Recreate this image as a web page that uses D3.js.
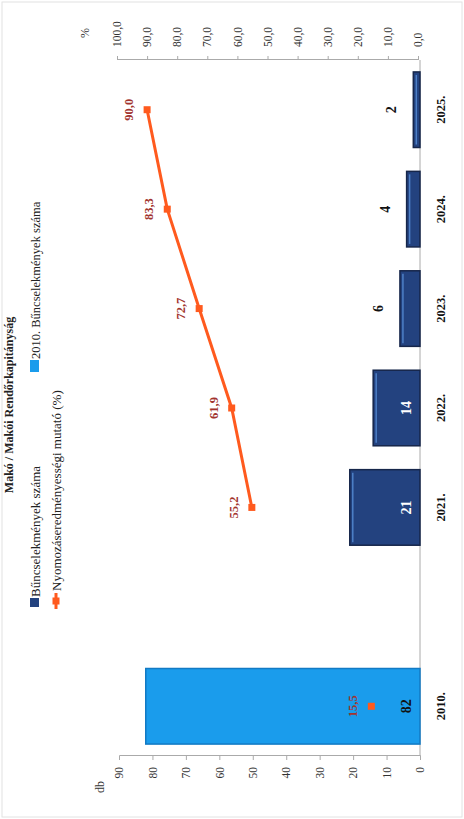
<!DOCTYPE html>
<html>
<head>
<meta charset="utf-8">
<script src="https://cdn.jsdelivr.net/npm/d3@7"></script>
<style>
  body { margin: 0; background: #fff; }
  text { font-family: 'Liberation Serif', 'Times New Roman', serif; }
</style>
</head>
<body>
<svg id="chart" width="464" height="819"></svg>
<script>
// data
const categories = ['2010.', '', '2021.', '2022.', '2023.', '2024.', '2025.']
const crimes = [82, null, 21, 14, 6, 4, 2]
const detection = [15.5, null, 55.2, 61.9, 72.7, 83.3, 90.0]
const dbTicks = [0, 10, 20, 30, 40, 50, 60, 70, 80, 90]
const pctTicks = [0, 10, 20, 30, 40, 50, 60, 70, 80, 90, 100]
const legendLabels = ['Bűncselekmények száma', 'Nyomozáseredményességi mutató (%)', '2010. Bűncselekmények száma']

// the picture is drawn in its own frame (819 wide, 464 high) and then turned a quarter left
const W = 819
const svg = d3.select('#chart')
svg.append('rect').attr('x', 2).attr('y', 2).attr('width', 460).attr('height', 815)
  .attr('fill', 'none').attr('stroke', '#e2e2e2')

const g = svg.append('g').attr('transform', `translate(0,${W}) rotate(-90)`)

const x = d3.scaleBand().domain(categories).range([63, 759]).paddingInner(0.24).paddingOuter(0.12)
const yBar = d3.scaleLinear().domain([0, 90]).range([420, 119])
const yPct = d3.scaleLinear().domain([0, 100]).range([418, 117])
const comma = (d) => d3.format('.1f')(d).replace('.', ',')

// title
g.append('text').attr('x', 414).attr('y', 13).attr('text-anchor', 'middle')
  .attr('font-size', 12).attr('font-weight', 'bold').attr('fill', '#222')
  .text('Makó / Makói Rendőrkapitányság')

// axes
const leftAxis = g.append('g').attr('transform', 'translate(63,0)')
  .call(d3.axisLeft(yBar).tickValues(dbTicks).tickSize(4).tickPadding(7))
const rightAxis = g.append('g').attr('transform', 'translate(759,0)')
  .call(d3.axisRight(yPct).tickValues(pctTicks).tickSize(4).tickPadding(9).tickFormat(comma))
;[leftAxis, rightAxis].forEach((a) => {
  a.select('.domain').attr('stroke', '#aaa')
  a.selectAll('.tick line').attr('stroke', '#aaa')
  a.selectAll('.tick text').attr('font-size', 11.5).attr('fill', '#333')
    .style('font-family', "'Liberation Serif', serif")
})
g.append('text').attr('x', 32).attr('y', 104).attr('text-anchor', 'middle')
  .attr('font-size', 12).attr('fill', '#333').text('db')
g.append('text').attr('x', 786).attr('y', 89).attr('text-anchor', 'middle')
  .attr('font-size', 12).attr('fill', '#333').text('%')

// category axis
g.append('line').attr('x1', 63).attr('x2', 759).attr('y1', yBar(0)).attr('y2', yBar(0))
  .attr('stroke', '#aaa')
g.selectAll('.cat').data(categories).enter().append('text').attr('class', 'cat')
  .attr('x', (d) => x(d) + x.bandwidth() / 2).attr('y', 445)
  .attr('text-anchor', 'middle').attr('font-size', 12.5).attr('font-weight', 'bold').attr('fill', '#111')
  .text((d) => d)

// bars
const barData = categories.map((c, i) => ({ c, v: crimes[i], i })).filter((d) => d.v != null)
const bars = g.selectAll('.bar').data(barData).enter().append('g').attr('class', 'bar')
bars.append('rect')
  .attr('x', (d) => x(d.c)).attr('width', x.bandwidth())
  .attr('y', (d) => yBar(d.v)).attr('height', (d) => yBar(0) - yBar(d.v))
  .attr('fill', (d) => d.i === 0 ? '#1a9cec' : '#23427f')
  .attr('stroke', (d) => d.i === 0 ? '#127ac4' : '#16264a').attr('stroke-width', 1.5)
bars.filter((d) => d.i > 0).append('line')
  .attr('x1', (d) => x(d.c) + 3).attr('x2', (d) => x(d.c) + x.bandwidth() - 3)
  .attr('y1', (d) => yBar(d.v) + 3).attr('y2', (d) => yBar(d.v) + 3)
  .attr('stroke', '#4d7fc6').attr('stroke-width', 1.5)
bars.append('text')
  .attr('x', (d) => x(d.c) + x.bandwidth() / 2)
  .attr('y', (d) => d.v > 10 ? yBar(0) - 9 : yBar(d.v) - 17)
  .attr('text-anchor', 'middle').attr('font-size', 14).attr('font-weight', 'bold')
  .attr('fill', (d) => d.i === 0 ? '#111' : d.v > 10 ? '#fff' : '#111')
  .text((d) => d.v)

// detection rate line
const lineData = categories.map((c, i) => ({ c, v: detection[i], i })).filter((d) => d.v != null)
const cx = (d) => x(d.c) + x.bandwidth() / 2
g.append('path').datum(lineData.filter((d) => d.i > 1))
  .attr('d', d3.line().x(cx).y((d) => yPct(d.v)))
  .attr('fill', 'none').attr('stroke', '#ff5a1e').attr('stroke-width', 3)
g.selectAll('.pt').data(lineData).enter().append('rect').attr('class', 'pt')
  .attr('x', (d) => cx(d) - 3.5).attr('y', (d) => yPct(d.v) - 3.5)
  .attr('width', 7).attr('height', 7).attr('fill', '#ff5a1e')
g.selectAll('.pl').data(lineData).enter().append('text').attr('class', 'pl')
  .attr('x', cx).attr('y', (d) => yPct(d.v) - 14)
  .attr('text-anchor', 'middle').attr('font-size', 12.5).attr('font-weight', 'bold').attr('fill', '#a2342e')
  .text((d) => comma(d.v))

// legend
const lg = g.append('g')
lg.append('rect').attr('x', 212).attr('y', 30).attr('width', 9).attr('height', 9).attr('fill', '#23427f')
lg.append('text').attr('x', 222).attr('y', 39.5).attr('font-size', 13).attr('fill', '#222').text(legendLabels[0])
lg.append('line').attr('x1', 210).attr('x2', 226).attr('y1', 56).attr('y2', 56)
  .attr('stroke', '#ff5a1e').attr('stroke-width', 3)
lg.append('rect').attr('x', 214.5).attr('y', 52.5).attr('width', 7).attr('height', 7).attr('fill', '#ff5a1e')
lg.append('text').attr('x', 228).attr('y', 60.5).attr('font-size', 13).attr('fill', '#222').text(legendLabels[1])
lg.append('rect').attr('x', 447).attr('y', 30).attr('width', 12).attr('height', 9).attr('fill', '#1a9cec')
lg.append('text').attr('x', 460).attr('y', 39.5).attr('font-size', 12.5).attr('fill', '#222').text(legendLabels[2])
</script>
</body>
</html>
